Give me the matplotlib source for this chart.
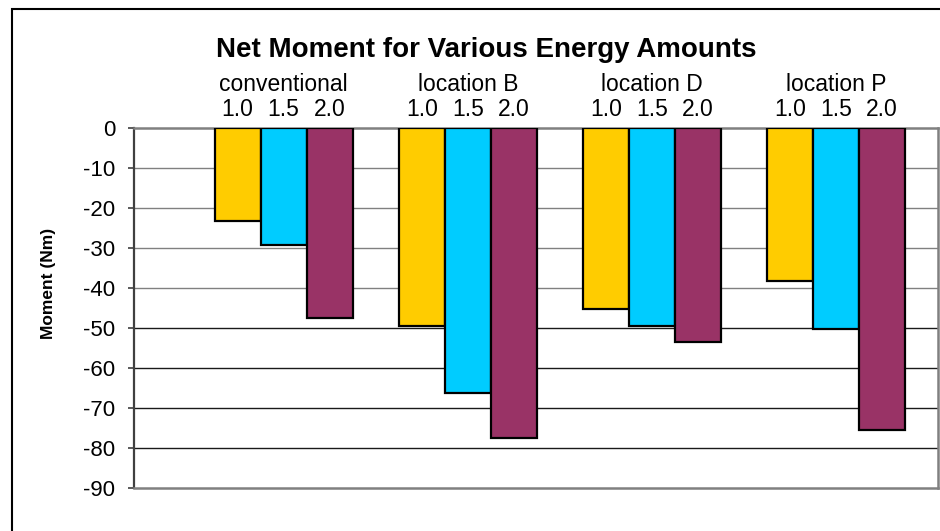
import numpy as np
import matplotlib
matplotlib.use("Agg")
import matplotlib.pyplot as plt
from matplotlib.patches import Rectangle

plt.rcParams['font.family'] = ['Liberation Sans', 'DejaVu Sans']

# data
groups = ["conventional", "location B", "location D", "location P"]
energies = ["1.0", "1.5", "2.0"]
moment_10 = [-23.2, -49.4, -45.3, -38.3]
moment_15 = [-29.3, -66.3, -49.4, -50.3]
moment_20 = [-47.4, -77.5, -53.5, -75.5]
yticks = list(range(0, -100, -10))

colors = ["#FFCC00", "#00CCFF", "#993366"]
series = [moment_10, moment_15, moment_20]

W, H = 940, 531
fig = plt.figure(figsize=(W / 100, H / 100), dpi=100)
ax = fig.add_axes([134 / W, (H - 488) / H, (938 - 134) / W, 360 / H])

x = np.arange(len(groups))
bw = 0.25
for i, vals in enumerate(series):
    ax.bar(x + (i - 1) * bw, vals, width=bw, color=colors[i],
           edgecolor="black", linewidth=1.6, zorder=3)

ax.set_ylim(-90, 0)
ax.set_xlim(-0.813, 3.554)
ax.set_yticks(yticks)
ax.set_yticklabels([str(t) for t in yticks], fontsize=16)
ax.tick_params(axis="y", length=4.5, width=1.2, color="#404040", pad=9)
ax.set_xticks([])

# gridlines: upper ones grey, lower ones black, as in the picture
for t in yticks[1:-1]:
    ax.axhline(t, color="#808080" if t > -45 else "#1a1a1a", linewidth=1.0, zorder=1)

for s in ["top", "right", "bottom"]:
    ax.spines[s].set_color("#808080")
    ax.spines[s].set_linewidth(1.8)
ax.spines["left"].set_color("#404040")
ax.spines["left"].set_linewidth(1.6)

ax.set_ylabel("Moment (Nm)", fontsize=12.5, fontweight="bold", va="center")
ax.yaxis.set_label_coords(-0.106, 0.568)

# group and energy labels above bars
trans = ax.get_xaxis_transform()
for gi, g in enumerate(groups):
    ax.text(x[gi], 1 + (128 - 91) / 360, g, transform=trans, ha="center",
            va="baseline", fontsize=16.5)
    for i, e in enumerate(energies):
        ax.text(x[gi] + (i - 1) * bw, 1 + (128 - 116.5) / 360, e, transform=trans,
                ha="center", va="baseline", fontsize=16.5)

fig.text(486 / W, (H - 57) / H, "Net Moment for Various Energy Amounts",
         ha="center", va="baseline", fontsize=20, fontweight="bold")

# outer chart border
fig.patches.append(Rectangle((12 / W, -0.1), 1.2, (H - 9) / H + 0.1,
                             transform=fig.transFigure, fill=False,
                             edgecolor="black", linewidth=1.5))

fig.savefig("out.png", dpi=100)
